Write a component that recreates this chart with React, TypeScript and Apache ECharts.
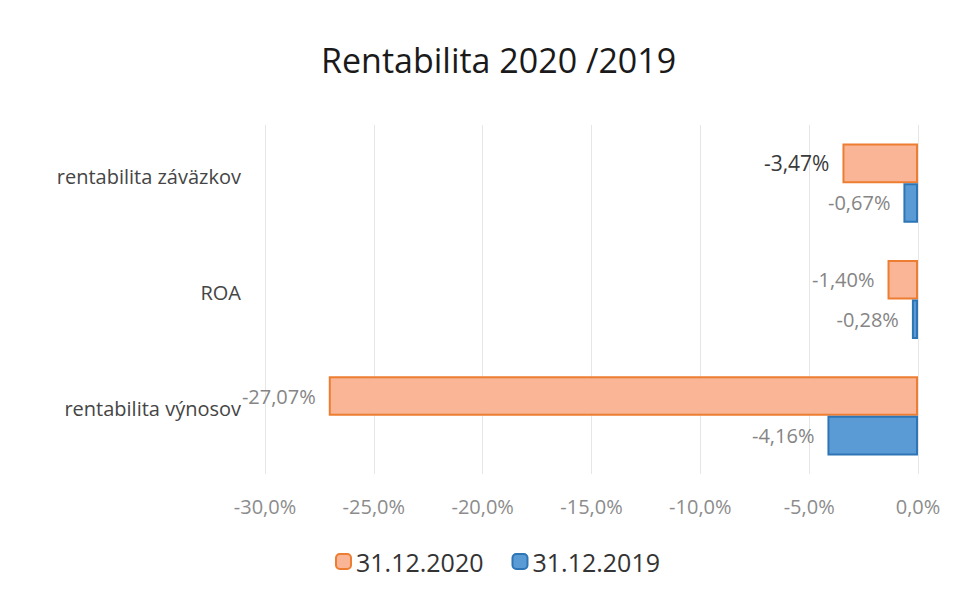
import React, { useEffect, useRef } from "react";
import * as echarts from "echarts";

const categories = ["rentabilita záväzkov", "ROA", "rentabilita výnosov"];
const values2020 = [-3.47, -1.4, -27.07];
const values2019 = [-0.67, -0.28, -4.16];
const seriesNames = ["31.12.2020", "31.12.2019"];
const xTicks = { min: -30, max: 0, interval: 5 };

const FONT = "'Open Sans', 'DejaVu Sans', sans-serif";
const fmt = (v: number, d: number) => v.toFixed(d).replace(".", ",") + "%";

export default function App() {
  const ref = useRef<HTMLDivElement>(null);
  useEffect(() => {
    if (!ref.current) return;
    const chart = echarts.init(ref.current, undefined, { renderer: "svg" });
    const labelBase = {
      show: true,
      position: "left",
      distance: 13,
      fontFamily: FONT,
      fontSize: 20,
      color: "#858585",
      formatter: (p: any) => fmt(p.value, 2),
    };
    chart.setOption({
      animation: false,
      backgroundColor: "#ffffff",
      title: {
        text: "Rentabilita 2020 /2019",
        left: 316,
        top: 38,
        textStyle: { fontFamily: FONT, fontSize: 34, fontWeight: "normal", color: "#1a1a1a" },
      },
      legend: {
        bottom: 16,
        left: 330,
        itemWidth: 15,
        itemHeight: 15,
        itemGap: 28,
        textStyle: { fontFamily: FONT, fontSize: 25, color: "#333333" },
        data: seriesNames,
      },
      grid: { left: 265, right: 44, top: 125, bottom: 121, containLabel: false },
      xAxis: {
        type: "value",
        min: xTicks.min,
        max: xTicks.max,
        interval: xTicks.interval,
        axisLine: { show: false },
        axisTick: { show: false },
        splitLine: { lineStyle: { color: "#e6e6e6", width: 1 } },
        axisLabel: {
          margin: 22,
          fontFamily: FONT,
          fontSize: 20,
          color: "#8c8c8c",
          formatter: (v: number) => fmt(v, 1),
        },
      },
      yAxis: {
        type: "category",
        data: categories,
        inverse: true,
        axisLine: { show: false },
        axisTick: { show: false },
        axisLabel: {
          margin: 24,
          fontFamily: FONT,
          fontSize: 20,
          color: "#454545",
          verticalAlign: "bottom",
          lineHeight: 14,
        },
      },
      series: [
        {
          name: seriesNames[0],
          type: "bar",
          data: values2020.map((v, i) =>
            i === 0 ? { value: v, label: { color: "#3a3a3a", fontSize: 21 } } : v
          ),
          barGap: "0%",
          barCategoryGap: "32%",
          itemStyle: { color: "#F9B596", borderColor: "#ED7D31", borderWidth: 2 },
          label: labelBase,
        },
        {
          name: seriesNames[1],
          type: "bar",
          data: values2019,
          itemStyle: { color: "#5B9BD5", borderColor: "#2E75B6", borderWidth: 2 },
          label: labelBase,
        },
      ],
    });
    return () => chart.dispose();
  }, []);
  return <div ref={ref} style={{ width: 962, height: 595, position: "absolute", left: 0, top: 0 }} />;
}
